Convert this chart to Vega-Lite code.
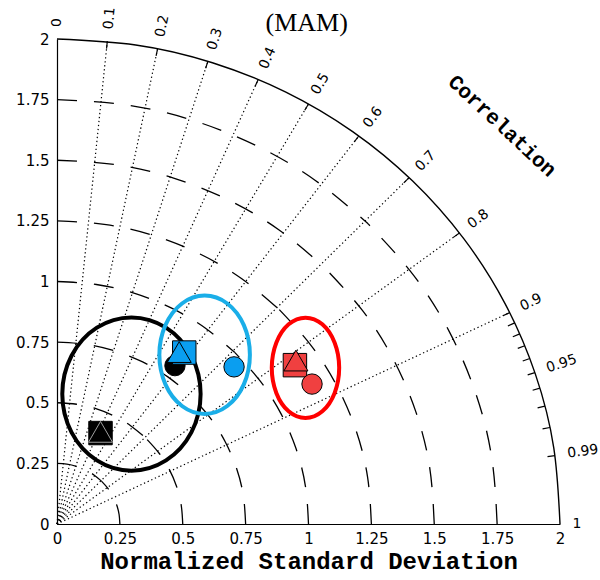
{
  "$schema": "https://vega.github.io/schema/vega-lite/v6.json",
  "width": 503,
  "height": 485,
  "autosize": {"type": "none"},
  "padding": {"left": 57, "top": 39, "right": 40, "bottom": 56},
  "background": "white",
  "config": {"view": {"stroke": null}},
  "datasets": {
    "sdArcs": [
      {"g": "0.25a", "x": 0, "y": 0.25}, {"g": "0.25a", "x": 0.03911, "y": 0.24692}, {"g": "0.25a", "x": 0.07726, "y": 0.23777}, {"g": "0.25a", "x": 0.1135, "y": 0.22275}, {"g": "0.25a", "x": 0.14695, "y": 0.20226}, {"g": "0.25a", "x": 0.17678, "y": 0.17678},
      {"g": "0.25b", "x": 0.25, "y": 0}, {"g": "0.25b", "x": 0.24692, "y": 0.03911}, {"g": "0.25b", "x": 0.23777, "y": 0.07726}, {"g": "0.25b", "x": 0.22275, "y": 0.1135}, {"g": "0.25b", "x": 0.20226, "y": 0.14695}, {"g": "0.25b", "x": 0.17678, "y": 0.17678},
      {"g": "0.5a", "x": 0, "y": 0.5}, {"g": "0.5a", "x": 0.07822, "y": 0.49385}, {"g": "0.5a", "x": 0.15451, "y": 0.47553}, {"g": "0.5a", "x": 0.227, "y": 0.44551}, {"g": "0.5a", "x": 0.2939, "y": 0.40451}, {"g": "0.5a", "x": 0.35355, "y": 0.35355},
      {"g": "0.5b", "x": 0.5, "y": 0}, {"g": "0.5b", "x": 0.49385, "y": 0.07822}, {"g": "0.5b", "x": 0.47553, "y": 0.15451}, {"g": "0.5b", "x": 0.44551, "y": 0.227}, {"g": "0.5b", "x": 0.40451, "y": 0.2939}, {"g": "0.5b", "x": 0.35355, "y": 0.35355},
      {"g": "0.75a", "x": 0, "y": 0.75}, {"g": "0.75a", "x": 0.11732, "y": 0.74077}, {"g": "0.75a", "x": 0.23177, "y": 0.7133}, {"g": "0.75a", "x": 0.34049, "y": 0.66826}, {"g": "0.75a", "x": 0.44084, "y": 0.60677}, {"g": "0.75a", "x": 0.53033, "y": 0.53033},
      {"g": "0.75b", "x": 0.75, "y": 0}, {"g": "0.75b", "x": 0.74077, "y": 0.11732}, {"g": "0.75b", "x": 0.7133, "y": 0.23177}, {"g": "0.75b", "x": 0.66826, "y": 0.34049}, {"g": "0.75b", "x": 0.60677, "y": 0.44084}, {"g": "0.75b", "x": 0.53033, "y": 0.53033},
      {"g": "1a", "x": 0, "y": 1}, {"g": "1a", "x": 0.15643, "y": 0.98769}, {"g": "1a", "x": 0.30902, "y": 0.95106}, {"g": "1a", "x": 0.45399, "y": 0.89101}, {"g": "1a", "x": 0.58779, "y": 0.80902}, {"g": "1a", "x": 0.70711, "y": 0.70711},
      {"g": "1b", "x": 1, "y": 0}, {"g": "1b", "x": 0.98769, "y": 0.15643}, {"g": "1b", "x": 0.95106, "y": 0.30902}, {"g": "1b", "x": 0.89101, "y": 0.45399}, {"g": "1b", "x": 0.80902, "y": 0.58779}, {"g": "1b", "x": 0.70711, "y": 0.70711},
      {"g": "1.25a", "x": 0, "y": 1.25}, {"g": "1.25a", "x": 0.19554, "y": 1.23461}, {"g": "1.25a", "x": 0.38628, "y": 1.18883}, {"g": "1.25a", "x": 0.56749, "y": 1.11376}, {"g": "1.25a", "x": 0.73474, "y": 1.01128}, {"g": "1.25a", "x": 0.88388, "y": 0.88388},
      {"g": "1.25b", "x": 1.25, "y": 0}, {"g": "1.25b", "x": 1.23461, "y": 0.19554}, {"g": "1.25b", "x": 1.18883, "y": 0.38628}, {"g": "1.25b", "x": 1.11376, "y": 0.56749}, {"g": "1.25b", "x": 1.01128, "y": 0.73474}, {"g": "1.25b", "x": 0.88388, "y": 0.88388},
      {"g": "1.5a", "x": 0, "y": 1.5}, {"g": "1.5a", "x": 0.23465, "y": 1.48154}, {"g": "1.5a", "x": 0.46353, "y": 1.42659}, {"g": "1.5a", "x": 0.68099, "y": 1.33652}, {"g": "1.5a", "x": 0.88169, "y": 1.21353}, {"g": "1.5a", "x": 1.06066, "y": 1.06066},
      {"g": "1.5b", "x": 1.5, "y": 0}, {"g": "1.5b", "x": 1.48154, "y": 0.23465}, {"g": "1.5b", "x": 1.42659, "y": 0.46353}, {"g": "1.5b", "x": 1.33652, "y": 0.68099}, {"g": "1.5b", "x": 1.21353, "y": 0.88169}, {"g": "1.5b", "x": 1.06066, "y": 1.06066},
      {"g": "1.75a", "x": 0, "y": 1.75}, {"g": "1.75a", "x": 0.27375, "y": 1.72846}, {"g": "1.75a", "x": 0.54079, "y": 1.66436}, {"g": "1.75a", "x": 0.79448, "y": 1.55927}, {"g": "1.75a", "x": 1.02863, "y": 1.41579}, {"g": "1.75a", "x": 1.23744, "y": 1.23744},
      {"g": "1.75b", "x": 1.75, "y": 0}, {"g": "1.75b", "x": 1.72846, "y": 0.27375}, {"g": "1.75b", "x": 1.66436, "y": 0.54079}, {"g": "1.75b", "x": 1.55927, "y": 0.79448}, {"g": "1.75b", "x": 1.41579, "y": 1.02863}, {"g": "1.75b", "x": 1.23744, "y": 1.23744}
    ],
    "outerArc": [
      {"x": 0, "y": 2}, {"x": 0.31286, "y": 1.97538}, {"x": 0.61804, "y": 1.90212}, {"x": 0.90798, "y": 1.78202}, {"x": 1.17558, "y": 1.61804}, {"x": 1.41421, "y": 1.41421},
      {"x": 1.61804, "y": 1.17558}, {"x": 1.78202, "y": 0.90798}, {"x": 1.90212, "y": 0.61804}, {"x": 1.97538, "y": 0.31286}, {"x": 2, "y": 0}
    ],
    "rays": [
      {"c": 0.1, "x": 0, "y": 0, "x2": 0.2, "y2": 1.98997},
      {"c": 0.2, "x": 0, "y": 0, "x2": 0.4, "y2": 1.95959},
      {"c": 0.3, "x": 0, "y": 0, "x2": 0.6, "y2": 1.90788},
      {"c": 0.4, "x": 0, "y": 0, "x2": 0.8, "y2": 1.83303},
      {"c": 0.5, "x": 0, "y": 0, "x2": 1.0, "y2": 1.73205},
      {"c": 0.6, "x": 0, "y": 0, "x2": 1.2, "y2": 1.6},
      {"c": 0.7, "x": 0, "y": 0, "x2": 1.4, "y2": 1.42829},
      {"c": 0.8, "x": 0, "y": 0, "x2": 1.6, "y2": 1.2},
      {"c": 0.9, "x": 0, "y": 0, "x2": 1.8, "y2": 0.87178}
    ],
    "corrTicks": [
      {"c": 0.1, "x": 0.2, "y": 1.98997, "x2": 0.197, "y2": 1.96013},
      {"c": 0.2, "x": 0.4, "y": 1.95959, "x2": 0.394, "y2": 1.9302},
      {"c": 0.3, "x": 0.6, "y": 1.90788, "x2": 0.591, "y2": 1.87926},
      {"c": 0.4, "x": 0.8, "y": 1.83303, "x2": 0.788, "y2": 1.80554},
      {"c": 0.5, "x": 1.0, "y": 1.73205, "x2": 0.985, "y2": 1.70607},
      {"c": 0.6, "x": 1.2, "y": 1.6, "x2": 1.182, "y2": 1.576},
      {"c": 0.7, "x": 1.4, "y": 1.42829, "x2": 1.379, "y2": 1.40686},
      {"c": 0.8, "x": 1.6, "y": 1.2, "x2": 1.576, "y2": 1.182},
      {"c": 0.9, "x": 1.8, "y": 0.87178, "x2": 1.773, "y2": 0.85871},
      {"c": 0.91, "x": 1.82, "y": 0.82922, "x2": 1.7927, "y2": 0.81678},
      {"c": 0.92, "x": 1.84, "y": 0.78384, "x2": 1.8124, "y2": 0.77208},
      {"c": 0.93, "x": 1.86, "y": 0.73512, "x2": 1.8321, "y2": 0.72409},
      {"c": 0.94, "x": 1.88, "y": 0.68234, "x2": 1.8518, "y2": 0.67211},
      {"c": 0.95, "x": 1.9, "y": 0.6245, "x2": 1.8715, "y2": 0.61513},
      {"c": 0.96, "x": 1.92, "y": 0.56, "x2": 1.8912, "y2": 0.5516},
      {"c": 0.97, "x": 1.94, "y": 0.48621, "x2": 1.9109, "y2": 0.47891},
      {"c": 0.98, "x": 1.96, "y": 0.39799, "x2": 1.9306, "y2": 0.39202},
      {"c": 0.99, "x": 1.98, "y": 0.28213, "x2": 1.9503, "y2": 0.2779}
    ],
    "corrLabels": [
      {"t": "0", "x": 0, "y": 2.05, "theta": 90},
      {"t": "0.1", "x": 0.205, "y": 2.0397, "theta": 84.26},
      {"t": "0.2", "x": 0.41, "y": 2.00859, "theta": 78.46},
      {"t": "0.3", "x": 0.615, "y": 1.95558, "theta": 72.54},
      {"t": "0.4", "x": 0.82, "y": 1.87887, "theta": 66.42},
      {"t": "0.5", "x": 1.025, "y": 1.77536, "theta": 60},
      {"t": "0.6", "x": 1.23, "y": 1.64, "theta": 53.13},
      {"t": "0.7", "x": 1.435, "y": 1.46399, "theta": 45.57},
      {"t": "0.8", "x": 1.64, "y": 1.23, "theta": 36.87},
      {"t": "0.9", "x": 1.845, "y": 0.89357, "theta": 25.84},
      {"t": "0.95", "x": 1.9475, "y": 0.64011, "theta": 18.19},
      {"t": "0.99", "x": 2.0295, "y": 0.28919, "theta": 8.11},
      {"t": "1", "x": 2.05, "y": 0, "theta": 0}
    ],
    "ellipses": [
      {"g": "black", "x": 0.571, "y": 0.536}, {"g": "black", "x": 0.5342, "y": 0.694}, {"g": "black", "x": 0.4335, "y": 0.8097}, {"g": "black", "x": 0.296, "y": 0.852},
      {"g": "black", "x": 0.1585, "y": 0.8097}, {"g": "black", "x": 0.0578, "y": 0.694}, {"g": "black", "x": 0.021, "y": 0.536}, {"g": "black", "x": 0.0578, "y": 0.378},
      {"g": "black", "x": 0.1585, "y": 0.2623}, {"g": "black", "x": 0.296, "y": 0.22}, {"g": "black", "x": 0.4335, "y": 0.2623}, {"g": "black", "x": 0.5342, "y": 0.378},
      {"g": "blue", "x": 0.767, "y": 0.698}, {"g": "blue", "x": 0.7429, "y": 0.82}, {"g": "blue", "x": 0.677, "y": 0.9093}, {"g": "blue", "x": 0.587, "y": 0.942},
      {"g": "blue", "x": 0.497, "y": 0.9093}, {"g": "blue", "x": 0.4311, "y": 0.82}, {"g": "blue", "x": 0.407, "y": 0.698}, {"g": "blue", "x": 0.4311, "y": 0.576},
      {"g": "blue", "x": 0.497, "y": 0.4867}, {"g": "blue", "x": 0.587, "y": 0.454}, {"g": "blue", "x": 0.677, "y": 0.4867}, {"g": "blue", "x": 0.7429, "y": 0.576},
      {"g": "red", "x": 1.122, "y": 0.644}, {"g": "red", "x": 1.104, "y": 0.7475}, {"g": "red", "x": 1.055, "y": 0.8233}, {"g": "red", "x": 0.988, "y": 0.851},
      {"g": "red", "x": 0.921, "y": 0.8233}, {"g": "red", "x": 0.872, "y": 0.7475}, {"g": "red", "x": 0.854, "y": 0.644}, {"g": "red", "x": 0.872, "y": 0.5405},
      {"g": "red", "x": 0.921, "y": 0.4647}, {"g": "red", "x": 0.988, "y": 0.437}, {"g": "red", "x": 1.055, "y": 0.4647}, {"g": "red", "x": 1.104, "y": 0.5405}
    ],
    "models": [
      {"g": "black", "m": "square", "x": 0.173, "y": 0.375},
      {"g": "black", "m": "triangle", "x": 0.173, "y": 0.38},
      {"g": "black", "m": "circle", "x": 0.469, "y": 0.653},
      {"g": "blue", "m": "square", "x": 0.506, "y": 0.707},
      {"g": "blue", "m": "triangle", "x": 0.486, "y": 0.709},
      {"g": "blue", "m": "circle", "x": 0.704, "y": 0.648},
      {"g": "red", "m": "square", "x": 0.946, "y": 0.655},
      {"g": "red", "m": "triangle", "x": 0.95, "y": 0.674},
      {"g": "red", "m": "circle", "x": 1.014, "y": 0.577}
    ]
  },
  "encoding": {
    "x": {
      "field": "x", "type": "quantitative",
      "scale": {"domain": [0, 2], "nice": false, "zero": false},
      "axis": {
        "values": [0, 0.25, 0.5, 0.75, 1, 1.25, 1.5, 1.75, 2], "format": ".2~f",
        "ticks": false, "tickSize": 0, "grid": false,
        "domainColor": "black", "domainWidth": 1.2,
        "labelFont": "DejaVu Sans", "labelFontSize": 15, "labelColor": "black", "labelPadding": 7,
        "labelFlush": false, "labelOverlap": false, "labelBound": false,
        "title": "Normalized Standard Deviation", "titleFont": "Liberation Mono", "titleFontSize": 24,
        "titleFontWeight": "bold", "titleColor": "black", "titlePadding": 3
      }
    },
    "y": {
      "field": "y", "type": "quantitative",
      "scale": {"domain": [0, 2], "nice": false, "zero": false},
      "axis": {
        "values": [0, 0.25, 0.5, 0.75, 1, 1.25, 1.5, 1.75, 2], "format": ".2~f",
        "ticks": false, "tickSize": 0, "grid": false,
        "domainColor": "black", "domainWidth": 1.2,
        "labelFont": "DejaVu Sans", "labelFontSize": 15, "labelColor": "black", "labelPadding": 8,
        "labelFlush": false, "labelOverlap": false, "labelBound": false,
        "title": null
      }
    }
  },
  "layer": [
    {
      "data": {"name": "rays"},
      "mark": {"type": "rule", "stroke": "black", "strokeWidth": 1.2, "strokeDash": [1.3, 2.7]},
      "encoding": {"x2": {"field": "x2"}, "y2": {"field": "y2"}}
    },
    {
      "data": {"name": "sdArcs"},
      "mark": {"type": "line", "interpolate": "natural", "stroke": "black", "strokeWidth": 1.3, "strokeDash": [20, 17]},
      "encoding": {"detail": {"field": "g"}, "order": {"value": null}}
    },
    {
      "data": {"name": "outerArc"},
      "mark": {"type": "line", "interpolate": "natural", "stroke": "black", "strokeWidth": 1.4},
      "encoding": {"order": {"value": null}}
    },
    {
      "data": {"name": "corrTicks"},
      "mark": {"type": "rule", "stroke": "black", "strokeWidth": 1.2},
      "encoding": {"x2": {"field": "x2"}, "y2": {"field": "y2"}}
    },
    {
      "data": {"name": "corrLabels"},
      "mark": {"type": "text", "align": "left", "baseline": "middle", "font": "DejaVu Sans", "fontSize": 14, "color": "black"},
      "encoding": {
        "text": {"field": "t"},
        "angle": {"field": "theta", "type": "quantitative", "scale": {"domain": [0, 90], "range": [0, -90]}}
      }
    },
    {
      "data": {"values": [{"t": "Correlation", "x": 1.769, "y": 1.64}]},
      "mark": {"type": "text", "align": "center", "baseline": "middle", "font": "Liberation Mono", "fontSize": 21, "fontWeight": "bold", "angle": 43, "color": "black"},
      "encoding": {"text": {"field": "t"}}
    },
    {
      "data": {"values": [{"t": "(MAM)", "x": 0.993, "y": 2.034}]},
      "mark": {"type": "text", "align": "center", "baseline": "alphabetic", "font": "Liberation Serif", "fontSize": 26, "color": "black"},
      "encoding": {"text": {"field": "t"}}
    },
    {
      "data": {"name": "ellipses"},
      "mark": {"type": "line", "interpolate": "cardinal-closed", "strokeWidth": 4},
      "encoding": {
        "detail": {"field": "g"},
        "order": {"value": null},
        "stroke": {"field": "g", "type": "nominal", "scale": {"domain": ["black", "blue", "red"], "range": ["#000000", "#1aaee8", "#ff0000"]}, "legend": null}
      }
    },
    {
      "data": {"name": "models"},
      "mark": {"type": "point", "filled": true, "opacity": 1, "strokeWidth": 1},
      "encoding": {
        "shape": {"field": "m", "type": "nominal", "scale": {"domain": ["circle", "square", "triangle"], "range": ["circle", "square", "triangle-up"]}, "legend": null},
        "size": {"field": "m", "type": "nominal", "scale": {"type": "ordinal", "domain": ["circle", "square", "triangle"], "range": [415, 550, 576]}, "legend": null},
        "fill": {"field": "g", "type": "nominal", "scale": {"domain": ["black", "blue", "red"], "range": ["#000000", "#0a9ef0", "#f04040"]}, "legend": null},
        "stroke": {"condition": {"test": "datum.g === 'black' && datum.m === 'triangle'", "value": "#a0a0a0"}, "value": "#000000"}
      }
    }
  ]
}
